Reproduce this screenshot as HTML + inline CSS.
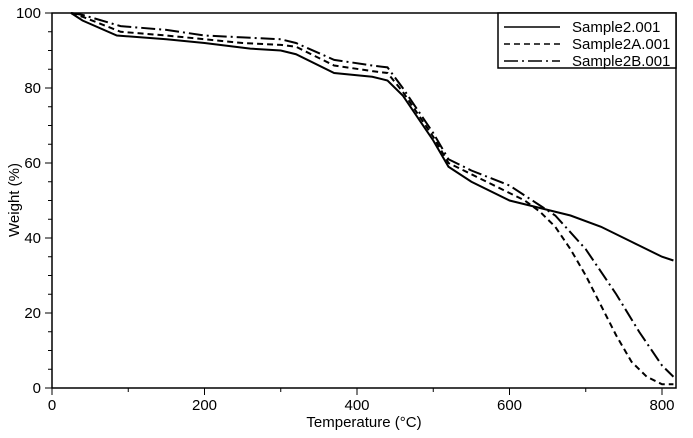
<!DOCTYPE html>
<html><head><meta charset="utf-8"><style>
body{margin:0;background:#fff;width:693px;height:433px;overflow:hidden}
text{font-family:"Liberation Sans",sans-serif;fill:#000}
</style></head><body>
<svg id="c" width="693" height="433"></svg>
<script>
const xTicks=[0,200,400,600,800];
const yTicks=[0,20,40,60,80,100];
const seriesNames=["Sample2.001","Sample2A.001","Sample2B.001"];
const s1T=[25,40,85,150,200,260,300,320,370,420,440,460,500,520,550,600,640,680,720,760,770,800,815];
const s1W=[100,98,94,93,92,90.5,90,89,84,83,82,78,66,59,55,50,48,46,43,39,38,35,34];
const s2T=[25,40,90,150,200,250,300,320,370,420,440,460,500,520,550,600,620,640,660,680,700,720,740,760,780,800,815];
const s2W=[100,99,95,94,93,92,91.5,91,86,84.5,84,79,67,60,57,52,50,47,43,37,30,22,14,7,3,1,1];
const s3T=[25,40,90,150,200,250,300,320,370,420,440,460,500,520,550,600,630,660,700,740,770,800,815];
const s3W=[100,99.5,96.5,95.5,94,93.5,93,92,87.5,86,85.5,80,68,61,58,54,50,46,37,25,15,6,3];
const dashes=["","6,4","14,4,2,4"];
const svg=document.getElementById('c');const NS='http://www.w3.org/2000/svg';
const X=v=>52+v*(662-52)/800, Y=v=>388-v*3.75;
function el(t,a,p){const e=document.createElementNS(NS,t);for(const k in a)e.setAttribute(k,a[k]);(p||svg).appendChild(e);return e;}
const frame=el('rect',{x:52,y:13,width:624,height:375,fill:'none',stroke:'#000','stroke-width':1.5});


for(let v=0;v<=800;v+=100){const t=el('line',{x1:X(v),x2:X(v),y1:388,y2:v%200?392:395,stroke:'#000'});

}
xTicks.forEach(v=>{const t=el('text',{x:X(v),y:410,'text-anchor':'middle','font-size':15});t.textContent=v;

});
for(let v=0;v<=100;v+=5){const t=el('line',{x1:v%20?48:45,x2:52,y1:Y(v),y2:Y(v),stroke:'#000'});

}
yTicks.forEach(v=>{const t=el('text',{x:41,y:Y(v)+5,'text-anchor':'end','font-size':15});t.textContent=v;

});
const xt=el('text',{x:364,y:427,'text-anchor':'middle','font-size':15});xt.textContent='Temperature (°C)';


const yt=el('text',{x:19,y:200,'text-anchor':'middle','font-size':15,transform:'rotate(-90 19 200)'});yt.textContent='Weight (%)';


const data=[[s1T,s1W],[s2T,s2W],[s3T,s3W]];
data.forEach((d,i)=>{const pts=d[0].map((t,j)=>X(t)+','+Y(d[1][j])).join(' ');
const p=el('polyline',{points:pts,fill:'none',stroke:'#000','stroke-width':2,'stroke-dasharray':dashes[i]});

});
const lg=el('rect',{x:498,y:13,width:178,height:55,fill:'#fff',stroke:'#000','stroke-width':1.5});


seriesNames.forEach((n,i)=>{const y=27+i*17;
const l=el('line',{x1:504,x2:560,y1:y,y2:y,stroke:'#000','stroke-width':1.5,'stroke-dasharray':dashes[i]});


const t=el('text',{x:572,y:y+5,'font-size':15});t.textContent=n;

});
</script>
</body></html>
